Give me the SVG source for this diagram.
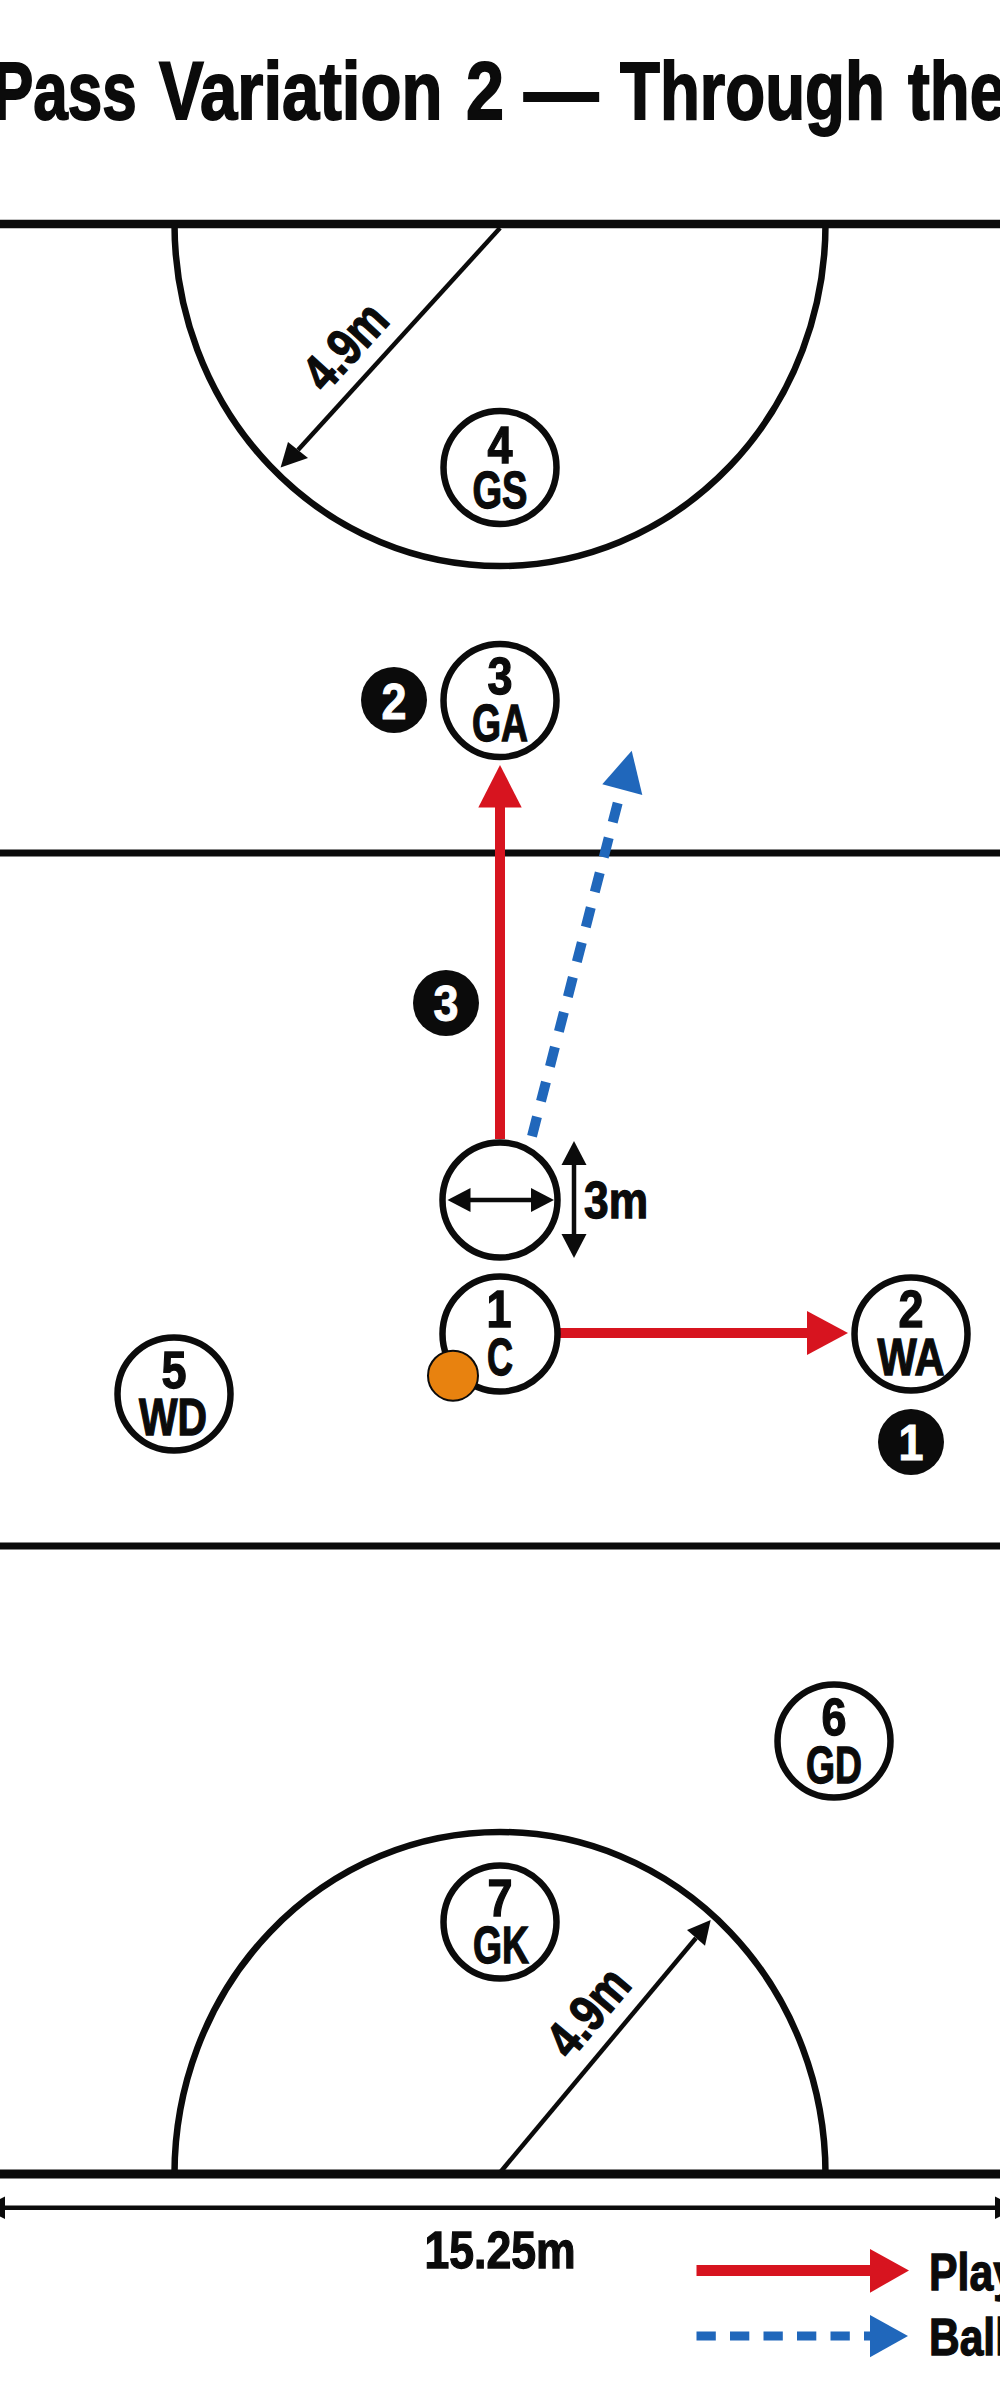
<svg xmlns="http://www.w3.org/2000/svg" width="1000" height="2400" viewBox="0 0 1000 2400">
<style>
text{font-family:"Liberation Sans",Arial,sans-serif;font-weight:700;fill:#0b0b0b;text-anchor:middle}
.n{font-size:52px;stroke:#0b0b0b;stroke-width:1.300px}
.title{font-size:81px;text-anchor:start;stroke:#0b0b0b;stroke-width:1.800px}
.leg{text-anchor:start;font-size:52px;stroke:#0b0b0b;stroke-width:1.300px}
.w{fill:#fff;font-size:50px;stroke:#fff;stroke-width:1px}
.court{stroke:#0b0b0b;fill:none}
.p{fill:#fff;stroke:#0b0b0b;stroke-width:6.500}
.dim{stroke:#0b0b0b;stroke-width:4.500;fill:none}
.dimh{fill:#0b0b0b}
.red{fill:#d7141f}
.redl{stroke:#d7141f;fill:none}
.blue{fill:#2067bb}
.bluel{stroke:#2067bb;fill:none}
</style>
<rect width="1000" height="2400" fill="#fff"/>
<text class="title" y="119"><tspan x="-8" textLength="162" lengthAdjust="spacingAndGlyphs">Pass </tspan><tspan x="159" textLength="302" lengthAdjust="spacingAndGlyphs">Variation </tspan><tspan x="466" textLength="57" lengthAdjust="spacingAndGlyphs">2 </tspan><tspan x="524" textLength="95" lengthAdjust="spacingAndGlyphs">— </tspan><tspan x="620" textLength="283" lengthAdjust="spacingAndGlyphs">Through </tspan><tspan x="908" textLength="98" lengthAdjust="spacingAndGlyphs">the</tspan></text>
<g id="court">
<path class="court" stroke-width="8.500" d="M0 224H1000"/>
<path class="court" stroke-width="7" d="M0 853H1000M0 1546H1000"/>
<path class="court" stroke-width="9" d="M0 2174H1000"/>
<path class="court" stroke-width="6.500" d="M174.500 224A325.500 342 0 0 0 825.500 224"/>
<path class="court" stroke-width="6.500" d="M174.500 2174A325.500 342 0 0 1 825.500 2174"/>
</g>
<g id="connectors">
<path class="dim" d="M500 228L298 450"/>
<polygon class="dimh" points="280.600,467.600 288,442 308,458"/>
<path class="dim" d="M500.500 2172L696 1938"/>
<polygon class="dimh" points="710.700,1920 687,1930 705,1945.700"/>
<path class="redl" stroke-width="10" d="M500 1139V806"/>
<polygon class="red" points="500,765 478.300,807.500 521.700,807.500"/>
<path class="bluel" stroke-width="10" stroke-dasharray="20 16" d="M617.700 803L530.500 1142"/>
<polygon class="blue" points="631.700,750.700 602.300,784.300 642.300,795"/>
<path class="redl" stroke-width="10" d="M559 1333H808"/>
<polygon class="red" points="848,1333 807,1311 807,1355"/>
<path class="dim" d="M574 1160V1240"/>
<polygon class="dimh" points="574,1141 561.500,1165 586.500,1165"/>
<polygon class="dimh" points="574,1258 561.500,1234 586.500,1234"/>
<path class="dim" d="M465 1200H536"/>
<polygon class="dimh" points="447.500,1200 470.500,1188 470.500,1212"/>
<polygon class="dimh" points="554,1200 531,1188 531,1212"/>
<path class="dim" d="M0 2207.700H1000"/>
<polygon class="dimh" points="-17,2207.700 5,2196.500 5,2219"/>
<polygon class="dimh" points="1017,2207.700 995,2196.500 995,2219"/>
</g>
<g id="node-4-gs"><circle class="p" cx="500" cy="467.500" r="56.500"/><text class="n" x="500" y="463" textLength="25" lengthAdjust="spacingAndGlyphs">4</text><text class="n" x="500" y="508" textLength="55" lengthAdjust="spacingAndGlyphs">GS</text></g>
<g id="node-3-ga"><circle class="p" cx="500" cy="700.500" r="56.500"/><text class="n" x="500" y="694" textLength="25" lengthAdjust="spacingAndGlyphs">3</text><text class="n" x="500" y="741" textLength="56" lengthAdjust="spacingAndGlyphs">GA</text></g>
<g id="node-screen"><circle cx="500" cy="1200" r="57.500" fill="none" stroke="#0b0b0b" stroke-width="6.500"/></g>
<g id="node-1-c"><circle class="p" cx="500" cy="1334" r="57.500"/><text class="n" x="499" y="1327" textLength="25" lengthAdjust="spacingAndGlyphs">1</text><text class="n" x="500" y="1375" textLength="26" lengthAdjust="spacingAndGlyphs">C</text></g>
<g id="node-2-wa"><circle class="p" cx="911" cy="1334" r="56.500"/><text class="n" x="911" y="1327" textLength="25" lengthAdjust="spacingAndGlyphs">2</text><text class="n" x="911" y="1375" textLength="67" lengthAdjust="spacingAndGlyphs">WA</text></g>
<g id="node-5-wd"><circle class="p" cx="174" cy="1394" r="56.500"/><text class="n" x="174" y="1388" textLength="25" lengthAdjust="spacingAndGlyphs">5</text><text class="n" x="173" y="1435" textLength="68" lengthAdjust="spacingAndGlyphs">WD</text></g>
<g id="node-6-gd"><circle class="p" cx="834" cy="1741" r="56.500"/><text class="n" x="834" y="1735" textLength="25" lengthAdjust="spacingAndGlyphs">6</text><text class="n" x="834" y="1783" textLength="56" lengthAdjust="spacingAndGlyphs">GD</text></g>
<g id="node-7-gk"><circle class="p" cx="500" cy="1922" r="56.500"/><text class="n" x="500" y="1916" textLength="25" lengthAdjust="spacingAndGlyphs">7</text><text class="n" x="501" y="1963" textLength="56" lengthAdjust="spacingAndGlyphs">GK</text></g>
<g id="ball"><circle cx="453" cy="1375.700" r="25" fill="#e8820f" stroke="#0b0b0b" stroke-width="2"/></g>
<g id="step-1"><circle cx="911" cy="1442" r="33" fill="#0b0b0b"/><text class="w" x="911" y="1460" textLength="25" lengthAdjust="spacingAndGlyphs">1</text></g>
<g id="step-2"><circle cx="394" cy="700" r="33" fill="#0b0b0b"/><text class="w" x="394" y="719" textLength="25" lengthAdjust="spacingAndGlyphs">2</text></g>
<g id="step-3"><circle cx="446" cy="1003" r="33" fill="#0b0b0b"/><text class="w" x="446" y="1021" textLength="25" lengthAdjust="spacingAndGlyphs">3</text></g>
<g id="labels">
<text class="n" x="616" y="1218" textLength="64" lengthAdjust="spacingAndGlyphs">3m</text>
<text class="n" transform="translate(345 346) rotate(-47.500)" x="0" y="18" textLength="98" lengthAdjust="spacingAndGlyphs">4.9m</text>
<text class="n" transform="translate(588 2012) rotate(-50)" x="0" y="18" textLength="98" lengthAdjust="spacingAndGlyphs">4.9m</text>
<text class="n" x="500" y="2268" textLength="151" lengthAdjust="spacingAndGlyphs">15.25m</text>
</g>
<g id="legend">
<path class="redl" stroke-width="11" d="M696.500 2270.500H871"/>
<polygon class="red" points="909,2270.500 870,2249 870,2292.700"/>
<text class="leg" x="929" y="2290" textLength="88" lengthAdjust="spacingAndGlyphs">Play</text>
<path class="bluel" stroke-width="9" stroke-dasharray="19.300 14.200" d="M696.500 2336H871"/>
<polygon class="blue" points="908,2336 870,2315 870,2357.300"/>
<text class="leg" x="929" y="2355" textLength="78" lengthAdjust="spacingAndGlyphs">Ball</text>
</g>
</svg>
